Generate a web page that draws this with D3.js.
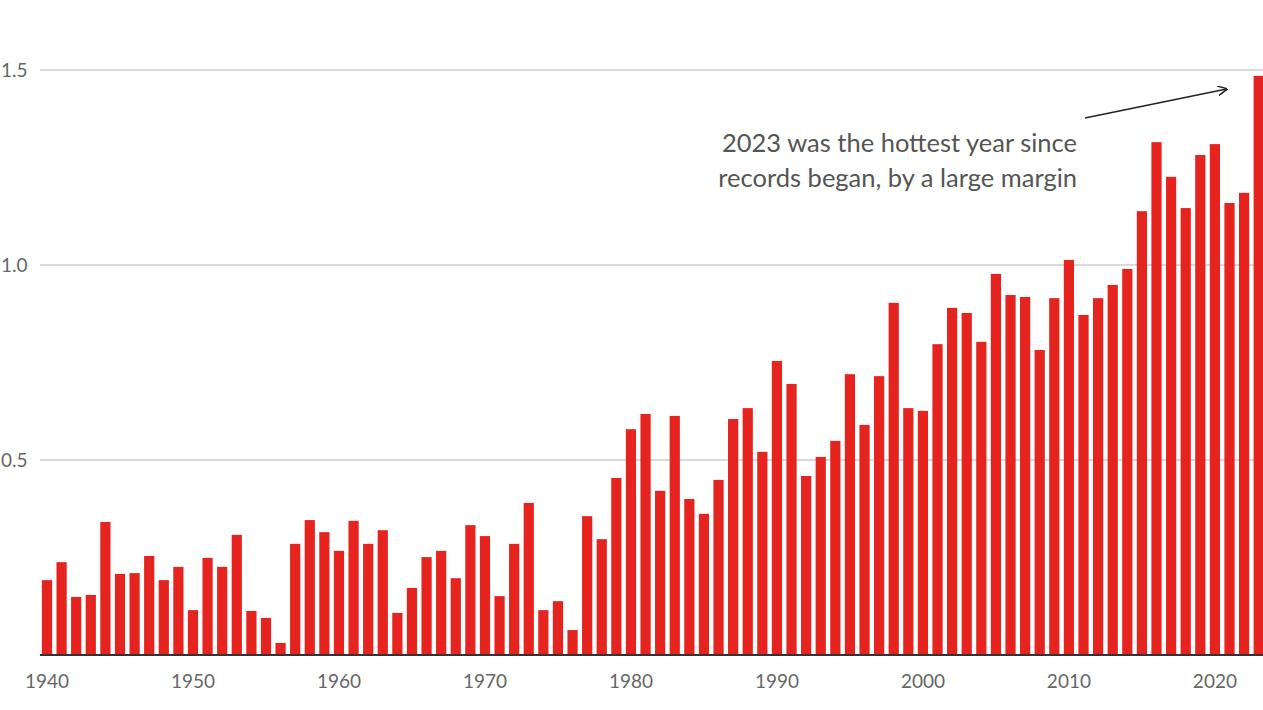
<!DOCTYPE html>
<meta charset="utf-8">
<title>Global temperature anomaly 1940-2023</title>
<style>
body { margin:0; background:#fff; }
.tick text { font-family: Lato, "Open Sans", sans-serif; fill:#666; }
.note { font-family: Lato, "Open Sans", sans-serif; fill:#555; }
</style>
<svg width="1263" height="710"></svg>
<script src="https://d3js.org/d3.v7.min.js"></script>
<script>
// anomaly values, one per year 1940..2023
var years = d3.range(1940, 2024);
var anomaly = [
  0.192, 0.238, 0.149, 0.154, 0.341, 0.208, 0.210, 0.254, 0.192, 0.226,
  0.115, 0.249, 0.226, 0.308, 0.113, 0.095, 0.031, 0.285, 0.346, 0.315,
  0.267, 0.344, 0.285, 0.320, 0.108, 0.172, 0.251, 0.267, 0.197, 0.333,
  0.305, 0.151, 0.285, 0.390, 0.115, 0.138, 0.064, 0.356, 0.297, 0.454,
  0.579, 0.618, 0.421, 0.613, 0.400, 0.362, 0.449, 0.605, 0.633, 0.521,
  0.754, 0.695, 0.459, 0.508, 0.549, 0.720, 0.590, 0.715, 0.903, 0.633,
  0.626, 0.797, 0.890, 0.877, 0.803, 0.977, 0.923, 0.918, 0.782, 0.915,
  1.013, 0.872, 0.915, 0.949, 0.990, 1.138, 1.315, 1.226, 1.146, 1.282,
  1.310, 1.159, 1.185, 1.485
];
var yTicks = [0.5, 1.0, 1.5];
var xTicks = [1940, 1950, 1960, 1970, 1980, 1990, 2000, 2010, 2020];
var noteLines = ["2023 was the hottest year since", "records began, by a large margin"];

var svg = d3.select("svg");

var x = d3.scaleBand()
    .domain(years)
    .range([39.7, 1266])
    .paddingInner(0.3)
    .paddingOuter(0.15);

var y = d3.scaleLinear()
    .domain([0, 1.5])
    .range([655, 70]);

// gridlines + labels
var grid = svg.append("g");
grid.selectAll("line")
  .data(yTicks)
  .enter().append("line")
    .attr("x1", 40).attr("x2", 1263)
    .attr("y1", function(d){ return y(d); })
    .attr("y2", function(d){ return y(d); })
    .style("stroke", "#ccc")
    .style("stroke-width", "1.5px");
grid.selectAll("text")
  .data(yTicks)
  .enter().append("text")
    .attr("x", 1)
    .attr("y", function(d){ return y(d); })
    .attr("dy", "0.35em")
    .style("font-family", "Lato, 'Open Sans', sans-serif")
    .style("font-size", "19px")
    .style("fill", "#666")
    .text(function(d){ return d3.format(".1f")(d); });

// bars
svg.append("g").selectAll("rect")
  .data(years)
  .enter().append("rect")
    .attr("x", function(d){ return x(d); })
    .attr("width", x.bandwidth())
    .attr("y", function(d, i){ return y(anomaly[i]); })
    .attr("height", function(d, i){ return y(0) - y(anomaly[i]); })
    .style("fill", "#e52420");

// baseline
svg.append("line")
  .attr("x1", 40).attr("x2", 1263)
  .attr("y1", y(0)).attr("y2", y(0))
  .style("stroke", "#333")
  .style("stroke-width", "2px");

// x axis labels
var xAxis = d3.axisBottom(x)
    .tickValues(xTicks)
    .tickSize(0)
    .tickPadding(20);
svg.append("g")
  .attr("transform", "translate(0," + y(0) + ")")
  .call(xAxis)
  .call(function(g){ g.select(".domain").remove(); })
  .selectAll("text")
    .style("font-size", "19px");

// annotation
svg.append("defs").append("marker")
  .attr("id", "arrow")
  .attr("viewBox", "0 0 10 10")
  .attr("refX", 9).attr("refY", 5)
  .attr("markerWidth", 10).attr("markerHeight", 10)
  .attr("markerUnits", "userSpaceOnUse")
  .attr("orient", "auto")
  .append("path")
    .attr("d", "M0,0 L10,5 L0,10")
    .style("fill", "none")
    .style("stroke", "#222")
    .style("stroke-width", "1.5px");

svg.append("line")
  .attr("x1", 1085).attr("y1", 118)
  .attr("x2", x(2023) - 27).attr("y2", 89)
  .attr("marker-end", "url(#arrow)")
  .style("stroke", "#222")
  .style("stroke-width", "1.5px");

svg.selectAll(".note")
  .data(noteLines)
  .enter().append("text")
    .attr("class", "note")
    .attr("x", 1077)
    .attr("y", function(d, i){ return 152 + i * 35; })
    .style("text-anchor", "end")
    .style("font-size", "25.5px")
    .text(function(d){ return d; });
</script>
